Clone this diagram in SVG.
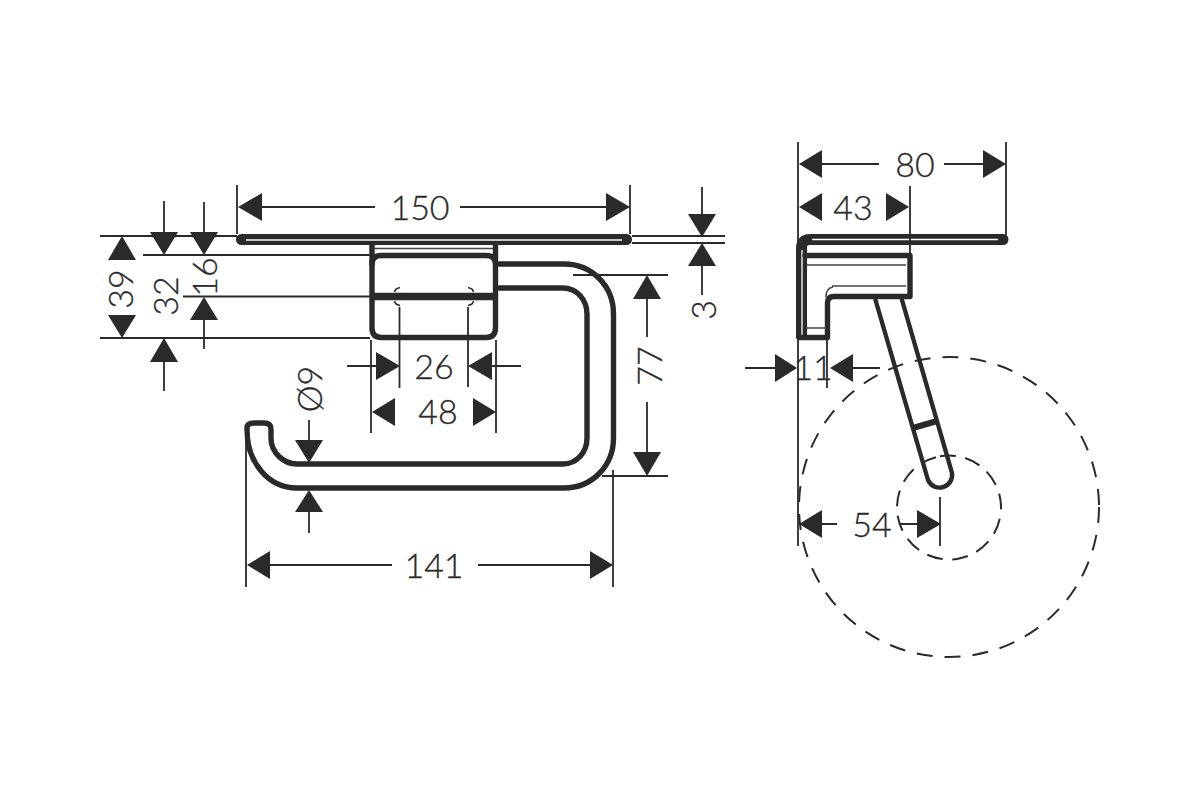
<svg xmlns="http://www.w3.org/2000/svg" width="1200" height="800" viewBox="0 0 1200 800">
<style>
.thin{stroke:#2a2a2a;stroke-width:1.8;fill:none}
.dash{stroke:#2a2a2a;stroke-width:2;fill:none}
.obj{stroke:#2a2a2a;stroke-width:5.400;fill:none;stroke-linejoin:round;stroke-linecap:round}
.hair{stroke:#444;stroke-width:1.5;fill:none}
.tri{fill:#2a2a2a}
.t{font-family:Lato,"Liberation Sans",Arial,sans-serif;font-weight:300;font-size:34px;fill:#2a2a2a;stroke:#2a2a2a;stroke-width:.3;text-anchor:middle;dominant-baseline:central}
</style>
<rect width="1200" height="800" fill="#fff"/>
<g id="front-view">
<rect x="236" y="234" width="396" height="11" rx="5.500" fill="#2a2a2a"/>
<path d="M246 240H622" stroke="#fff" stroke-width="1.400"/>
<path class="obj" d="M372 245V328Q372 337.500 381.500 337.500H486Q495.500 337.500 495.500 328V245"/>
<path class="obj" d="M372 264Q372 255.500 381.500 255.500H486Q495.500 255.500 495.500 264"/>
<path d="M372 296.500H495" stroke="#2a2a2a" stroke-width="7.500"/>
<path class="hair" d="M374 248.500H493"/>
<path d="M400 287.500Q394 289 395 292M395 301Q394 304 400 305.500M468 287.500Q474 289 473 292M473 301Q474 304 468 305.500" stroke="#2a2a2a" stroke-width="1.600" fill="none"/>
<path class="obj" d="M499 264H564C592 264 613.500 286 613.500 314V438C613.500 466 592 488 564 488H297C268 488 247 462 247 430V428Q247 423 254 423H264Q271 423 271 429V438C271 452 283 464 297 464H563C577 464 587 452 587 438V314C587 300 577 288 563 288H499"/>
</g>
<g id="side-view">
<path d="M801.500 338V248Q801.500 239.500 810 239.500H1003" stroke="#2a2a2a" stroke-width="11" fill="none"/>
<circle cx="1003" cy="239.500" r="5.500" fill="#2a2a2a"/>
<path d="M802 250V336M812 239.500H998" stroke="#fff" stroke-width="1.300" fill="none"/>
<path class="obj" d="M805 255.500H910V296.500H834Q827.500 296.500 827.500 303V337.500H799"/>
<path class="hair" d="M807 265H906M832 286H906M807 328H826M826 297Q826 288 833 287"/>
<path class="obj" style="stroke-width:4.400" d="M875.500 300L928 480A12.600 12.600 0 0 0 952 473L902 300"/>
<path d="M913 428L937 421" stroke="#2a2a2a" stroke-width="6"/>
<circle cx="949" cy="507" r="150" class="dash" stroke-dasharray="16 12"/>
<circle cx="949" cy="507.500" r="52" class="dash" stroke-dasharray="16 9.500" transform="rotate(-100 949 507.500)"/>
</g>
<g id="connectors">
<path class="thin" d="M100 236H237M143 255H370M183 296.500H370M100 338H370M164 201V232M164 362V391M204 202V232M204 320V349"/>
<path class="thin" d="M237 185V234M630 185V234M262 207H375M460 207H606"/>
<path class="thin" d="M632 236H725M632 243H725M702 187V214M702 266V295"/>
<path class="thin" d="M573 275H668M602 476H668M647 299V337M647 402V452"/>
<path class="thin" d="M399.500 307V388M468 307V387M371 340V433M496 340V433M347 366H376M492 366H521"/>
<path class="thin" d="M309 420V440M309 512V533M246 430V587M613 470V587M270 565H392M478 565H590"/>
<path class="thin" d="M798 142V546M1006 142V235M910 186V255M822 164H879M944 164H983M745 368H775M853 368H880M827 340V388M940 497V546M822 524H837M900 524H917"/>
<g class="tri">
<polygon points="122,236 108,260 136,260"/><polygon points="122,338 108,315 136,315"/>
<polygon points="164,255 150,232 178,232"/><polygon points="164,338 150,362 178,362"/>
<polygon points="204,255 190,232 218,232"/><polygon points="204,297 190,320 218,320"/>
<polygon points="238,207 262,193 262,221"/><polygon points="630,207 606,193 606,221"/>
<polygon points="702,237 688,214 716,214"/><polygon points="702,243 688,266 716,266"/>
<polygon points="647,275 633,299 661,299"/><polygon points="647,476 633,452 661,452"/>
<polygon points="400,366 376,352 376,380"/><polygon points="468,366 492,352 492,380"/>
<polygon points="372,412 395,398 395,426"/><polygon points="496,412 473,398 473,426"/>
<polygon points="309,463 295,440 323,440"/><polygon points="309,490 295,512 323,512"/>
<polygon points="247,565 270,551 270,579"/><polygon points="613,565 590,551 590,579"/>
<polygon points="799,164 822,150 822,178"/><polygon points="1006,164 983,150 983,178"/>
<polygon points="799,207 822,193 822,221"/><polygon points="909,207 886,193 886,221"/>
<polygon points="797,368 775,354 775,382"/><polygon points="830,368 853,354 853,382"/>
<polygon points="799,524 822,510 822,538"/><polygon points="941,524 917,510 917,538"/>
</g>
</g>
<g id="labels">
<text class="t" x="420" y="206">150</text>
<text class="t" x="434" y="365">26</text>
<text class="t" x="438" y="410">48</text>
<text class="t" x="434" y="564">141</text>
<text class="t" x="915" y="163">80</text>
<text class="t" x="853" y="206">43</text>
<text class="t" x="813" y="366">11</text>
<text class="t" x="872" y="523">54</text>
<text class="t" transform="translate(119 289) rotate(-90)">39</text>
<text class="t" transform="translate(164 296) rotate(-90)">32</text>
<text class="t" transform="translate(203 277) rotate(-90)">16</text>
<text class="t" transform="translate(308 389) rotate(-90)">Ø9</text>
<text class="t" transform="translate(648 366) rotate(-90)">77</text>
<text class="t" transform="translate(702 310) rotate(-90)">3</text>
</g>
</svg>
